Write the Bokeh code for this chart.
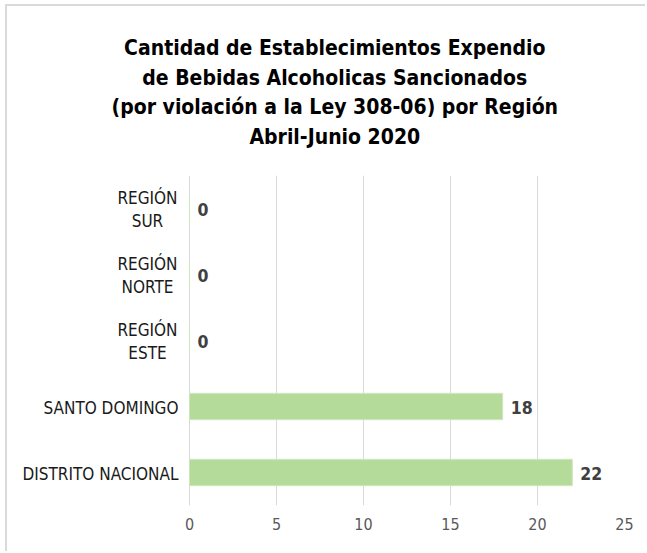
from bokeh.plotting import figure
from bokeh.models import ColumnDataSource, FactorRange, Range1d, FixedTicker
from bokeh.layouts import column
from bokeh.core.properties import value
from bokeh.embed import file_html
from bokeh.resources import INLINE

categories = ["DISTRITO NACIONAL", "SANTO DOMINGO", "REGIÓN ESTE", "REGIÓN NORTE", "REGIÓN SUR"]
cat_labels = ["DISTRITO NACIONAL", "SANTO DOMINGO", "REGIÓN\nESTE", "REGIÓN\nNORTE", "REGIÓN\nSUR"]
values = [22, 18, 0, 0, 0]
x_ticks = [0, 5, 10, 15, 20, 25]
title_lines = ["Cantidad de Establecimientos Expendio",
               "de Bebidas Alcoholicas Sancionados",
               "(por violación a la Ley 308-06) por Región",
               "Abril-Junio 2020"]

FONT = "DejaVu Sans Condensed"
W = 638
TH = 160
MH = 385

# ---- title figure ----
t = figure(width=W, height=TH, output_backend="svg", toolbar_location=None,
           x_range=Range1d(0, W), y_range=Range1d(TH, 0),
           x_axis_location=None, y_axis_location=None, min_border=0)
t.outline_line_color = None
t.xgrid.visible = False
t.ygrid.visible = False
tsrc = ColumnDataSource(dict(txt=title_lines,
                             x=[336] * len(title_lines),
                             y=[41.5 + i * 29.6 for i in range(len(title_lines))]))
t.text(x="x", y="y", text="txt", source=tsrc, text_align="center",
       text_baseline="alphabetic", text_font=value(FONT), text_font_style="bold",
       text_font_size="21px", text_color="#000000")

# ---- main figure ----
p = figure(width=W, height=MH, output_backend="svg", toolbar_location=None,
           y_range=FactorRange(factors=categories, range_padding=0),
           x_range=Range1d(-10.17, 25), y_axis_location=None)
p.min_border_left = 5
p.min_border_right = 21
p.min_border_top = 9
p.min_border_bottom = 46
p.outline_line_color = None

multi = ["\n" in s for s in cat_labels]
src = ColumnDataSource(dict(cat=categories, val=values,
                            lab=[str(v) for v in values], name=cat_labels,
                            zero=[0] * len(values),
                            align=["center" if m else "right" for m in multi],
                            xoff=[-42 if m else -11 for m in multi]))
p.hbar(y="cat", right="val", left=0, height=0.4, source=src,
       fill_color="#b5db9a", line_color="#cfe7bd", line_width=1)
p.text(x="val", y="cat", text="lab", source=src, x_offset=8, y_offset=1,
       text_baseline="middle", text_align="left",
       text_font=value(FONT), text_font_style="bold",
       text_font_size="17.5px", text_color="#404040")
p.text(x="zero", y="cat", text="name", source=src, x_offset="xoff", y_offset=1,
       text_baseline="middle", text_align="align", text_line_height=1.15,
       text_font=value(FONT), text_font_size="17px", text_color="#1a1a1a")

p.xgrid.grid_line_color = "#d9d9d9"
p.xgrid.grid_line_width = 1
p.ygrid.grid_line_color = None
p.xaxis.ticker = FixedTicker(ticks=x_ticks)
p.xaxis.axis_line_color = None
p.xaxis.major_tick_line_color = None
p.xaxis.minor_tick_line_color = None
p.xaxis.major_tick_out = 0
p.xaxis.major_tick_in = 0
p.xaxis.major_label_standoff = 12
p.xaxis.major_label_text_font = FONT
p.xaxis.major_label_text_font_size = "16px"
p.xaxis.major_label_text_color = "#595959"

lay = column(t, p, spacing=0)
lay.styles = {"border-top": "2px solid #dadada", "border-left": "2px solid #dadada",
              "margin-left": "5px", "margin-top": "4px"}

open("out.html", "w").write(file_html(lay, INLINE))
